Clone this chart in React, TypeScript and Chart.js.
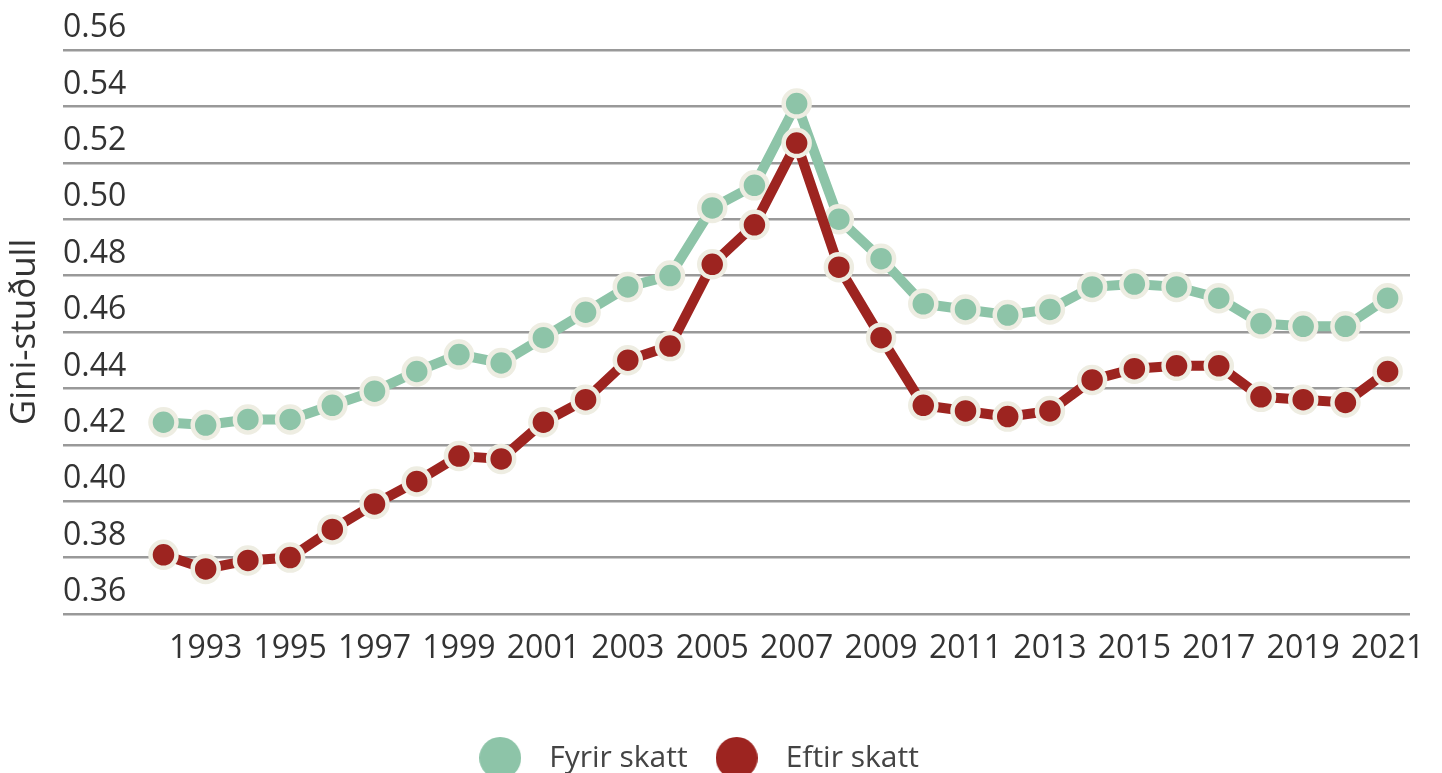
import { useEffect, useRef } from 'react';
import { Chart, registerables } from 'chart.js';

Chart.register(...registerables);

const years = [1992, 1993, 1994, 1995, 1996, 1997, 1998, 1999, 2000, 2001, 2002, 2003, 2004, 2005, 2006, 2007, 2008, 2009, 2010, 2011, 2012, 2013, 2014, 2015, 2016, 2017, 2018, 2019, 2020, 2021];
const fyrirSkatt = [0.428, 0.427, 0.429, 0.429, 0.434, 0.439, 0.446, 0.452, 0.449, 0.458, 0.467, 0.476, 0.480, 0.504, 0.512, 0.541, 0.500, 0.486, 0.470, 0.468, 0.466, 0.468, 0.476, 0.477, 0.476, 0.472, 0.463, 0.462, 0.462, 0.472];
const eftirSkatt = [0.381, 0.376, 0.379, 0.380, 0.390, 0.399, 0.407, 0.416, 0.415, 0.428, 0.436, 0.450, 0.455, 0.484, 0.498, 0.527, 0.483, 0.458, 0.434, 0.432, 0.430, 0.432, 0.443, 0.447, 0.448, 0.448, 0.437, 0.436, 0.435, 0.446];
const xTickYears = [1993, 1995, 1997, 1999, 2001, 2003, 2005, 2007, 2009, 2011, 2013, 2015, 2017, 2019, 2021];
const yTickValues = [0.36, 0.38, 0.40, 0.42, 0.44, 0.46, 0.48, 0.50, 0.52, 0.54, 0.56];
const seriesLabels = ['Fyrir skatt', 'Eftir skatt'];

const GREEN = '#8DC4A8';
const RED = '#9D2420';
const CREAM = '#EEEDE2';
const FONT = "'Open Sans', 'Noto Sans', sans-serif";

function makeDot(color: string, r: number) {
  const c = document.createElement('canvas');
  c.width = r * 2;
  c.height = r * 2;
  const ctx = c.getContext('2d')!;
  ctx.fillStyle = color;
  ctx.beginPath();
  ctx.arc(r, r, r, 0, Math.PI * 2);
  ctx.fill();
  return c;
}

export default function App() {
  const ref = useRef<HTMLCanvasElement | null>(null);

  useEffect(() => {
    if (!ref.current) return;
    const dots = [makeDot(GREEN, 21), makeDot(RED, 21)];
    const shiftLegend = {
      id: 'shiftLegend',
      afterLayout(chart: any) {
        if (chart.legend) {
          chart.legend.left -= 33;
        }
      },
    };
    const chart = new Chart(ref.current, {
      type: 'line',
      data: {
        datasets: [
          {
            label: seriesLabels[0],
            data: years.map((x, i) => ({ x, y: fyrirSkatt[i] })),
            borderColor: GREEN,
            backgroundColor: GREEN,
            borderWidth: 10,
            pointRadius: 13,
            pointBorderWidth: 4.5,
            pointBackgroundColor: GREEN,
            pointBorderColor: CREAM,
            tension: 0,
            order: 1,
          },
          {
            label: seriesLabels[1],
            data: years.map((x, i) => ({ x, y: eftirSkatt[i] })),
            borderColor: RED,
            backgroundColor: RED,
            borderWidth: 10,
            pointRadius: 13,
            pointBorderWidth: 4.5,
            pointBackgroundColor: RED,
            pointBorderColor: CREAM,
            tension: 0,
            order: 0,
          },
        ],
      },
      options: {
        animation: false,
        responsive: true,
        maintainAspectRatio: false,
        layout: { padding: { top: 42, right: 24, left: 0, bottom: 0 } },
        plugins: {
          tooltip: { enabled: false },
          legend: {
            position: 'bottom',
            maxHeight: 45,
            labels: {
              usePointStyle: true,
              pointStyleWidth: 68,
              padding: 15,
              color: '#444',
              font: { family: FONT, size: 30 },
              generateLabels: () =>
                seriesLabels.map((text, i) => ({
                  text,
                  fillStyle: i === 0 ? GREEN : RED,
                  strokeStyle: 'transparent',
                  lineWidth: 0,
                  pointStyle: dots[i] as any,
                  hidden: false,
                  datasetIndex: i,
                  fontColor: '#444',
                })),
            },
          },
        },
        scales: {
          x: {
            type: 'linear',
            min: 1989.62,
            max: 2021.53,
            afterBuildTicks: (axis: any) => {
              axis.ticks = xTickYears.map((v) => ({ value: v }));
            },
            afterFit: (axis: any) => {
              axis.height = 114;
            },
            grid: { display: false, drawTicks: true, tickLength: 16 },
            border: { display: false },
            ticks: {
              padding: 0,
              autoSkip: false,
              maxRotation: 0,
              color: '#333',
              font: { family: FONT, size: 32 },
              callback: (v: any) => String(v),
            },
          },
          y: {
            min: 0.36,
            max: 0.56,
            afterBuildTicks: (axis: any) => {
              axis.ticks = yTickValues.map((v) => ({ value: v }));
            },
            grid: { color: '#999', lineWidth: 2.5, drawTicks: false },
            border: { display: false },
            title: {
              display: true,
              text: 'Gini-stuðull',
              color: '#333',
              font: { family: FONT, size: 35 },
              padding: { top: -4, bottom: 17 },
            },
            ticks: {
              mirror: true,
              padding: 0,
              labelOffset: -22,
              color: '#333',
              font: { family: FONT, size: 32 },
              callback: (v: any) => Number(v).toFixed(2),
            },
          },
        },
      },
      plugins: [shiftLegend],
    });
    return () => chart.destroy();
  }, []);

  return (
    <div style={{ position: 'relative', width: '100%', height: 765 }}>
      <canvas ref={ref} />
    </div>
  );
}
